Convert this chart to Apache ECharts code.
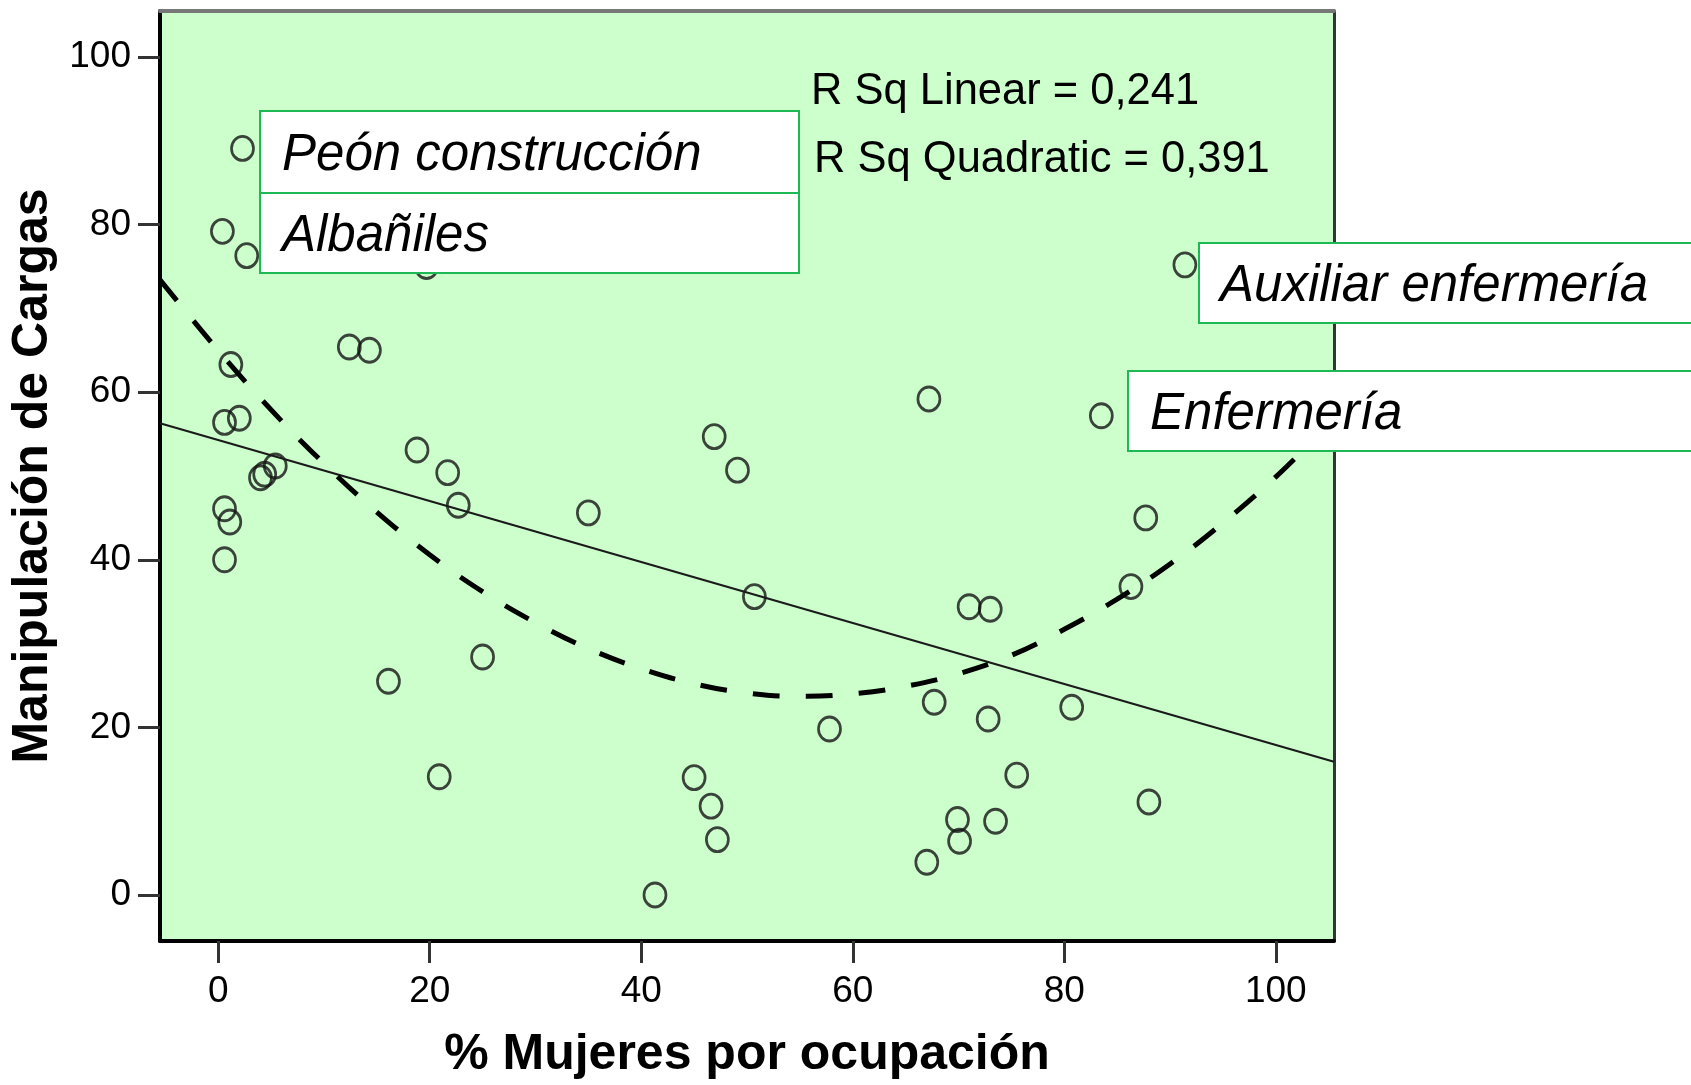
<!DOCTYPE html>
<html><head><meta charset="utf-8">
<script src="https://cdn.jsdelivr.net/npm/echarts@6/dist/echarts.min.js"></script>
<style>html,body{margin:0;padding:0;background:#fff}#c{width:1691px;height:1085px}</style>
</head><body><div id="c"></div>
<script>
// % women per occupation (x) and load handling score (y)
const pctWomen = [2.3,0.4,2.7,19.7,1.2,0.6,2.0,4.0,4.4,5.4,0.6,1.1,0.6,12.4,14.3,18.8,21.7,22.7,16.1,25.0,20.9,35.0,46.9,49.1,50.7,41.3,45.0,46.6,47.2,57.8,67.2,67.7,67.0,69.9,70.1,71.0,73.0,72.8,73.5,75.5,80.7,83.5,86.3,87.7,88.0,91.4];
const cargas   = [89.1,79.2,76.3,75.0,63.3,56.4,56.9,49.8,50.2,51.2,46.1,44.5,40.0,65.4,65.0,53.1,50.4,46.5,25.5,28.4,14.1,45.6,54.7,50.7,35.6,0.0,14.0,10.6,6.6,19.8,59.2,23.0,3.9,9.0,6.4,34.4,34.1,21.0,8.8,14.3,22.4,57.2,36.8,45.0,11.1,75.2];
// linear fit line, read at plot edges
const linX = [-5.5, 105.5];
const linY = [56.3, 15.9];
// quadratic fit curve
const quadX = [-5.5,0,5,10,15,20,25,30,35,40,45,50,55,60,65,70,75,80,85,90,95,100,105.5];
const quadY = [73.4,65.0,57.9,51.5,45.7,40.6,36.2,32.5,29.4,27.0,25.2,24.1,23.7,24.0,24.9,26.4,28.6,31.7,35.3,39.5,44.4,49.9,56.8];
const ticks = [0,20,40,60,80,100];
const xTitle = '% Mujeres por ocupación';
const yTitle = 'Manipulación de Cargas';
const rsqLines = ['R Sq Linear = 0,241','R Sq Quadratic = 0,391'];
const boxLabels = ['Peón construcción','Albañiles','Auxiliar enfermería','Enfermería'];

const zip = (a,b)=>a.map((v,i)=>[v,b[i]]);
const FONT = '"Liberation Sans", Arial, sans-serif';
const chart = echarts.init(document.getElementById('c'), null, {renderer:'canvas'});

const boxStyle = {fill:'#fff', stroke:'#1db954', lineWidth:2};
const boxText = {fill:'#000', font:'italic 51px ' + FONT, verticalAlign:'middle'};

chart.setOption({
  animation:false,
  backgroundColor:'#fff',
  grid:{left:160, top:11, width:1174, height:931, show:true, backgroundColor:'#ccffcc', borderWidth:0},
  xAxis:[{
    type:'value', min:-5.5, max:105.5, position:'bottom',
    axisLine:{onZero:false, lineStyle:{color:'#000', width:4}},
    axisTick:{customValues:ticks, length:22, lineStyle:{color:'#333', width:3}},
    axisLabel:{customValues:ticks, fontSize:37, fontFamily:FONT, color:'#000', margin:32},
    splitLine:{show:false},
    name:xTitle, nameLocation:'middle', nameGap:89,
    nameTextStyle:{fontSize:50, fontWeight:'bold', fontFamily:FONT, color:'#000'}
  },{
    type:'value', min:-5.5, max:105.5, position:'top',
    axisLine:{onZero:false, lineStyle:{color:'#777', width:4}},
    axisTick:{show:false}, axisLabel:{show:false}, splitLine:{show:false}
  }],
  yAxis:[{
    type:'value', min:-5.5, max:105.5, position:'left',
    axisLine:{onZero:false, lineStyle:{color:'#000', width:4}},
    axisTick:{customValues:ticks, length:22, lineStyle:{color:'#333', width:3}},
    axisLabel:{customValues:ticks, fontSize:37, fontFamily:FONT, color:'#000', margin:29},
    splitLine:{show:false},
    name:yTitle, nameLocation:'middle', nameGap:80,
    nameTextStyle:{fontSize:50, fontWeight:'bold', fontFamily:FONT, color:'#000'}
  },{
    type:'value', min:-5.5, max:105.5, position:'right',
    axisLine:{onZero:false, lineStyle:{color:'#333', width:3}},
    axisTick:{show:false}, axisLabel:{show:false}, splitLine:{show:false}
  }],
  series:[
    {type:'scatter', data:zip(pctWomen,cargas), symbol:'circle', symbolSize:[22,24],
     itemStyle:{color:'rgba(0,0,0,0)', borderColor:'#141414', borderWidth:2.8}, z:3},
    {type:'line', data:zip(linX,linY), showSymbol:false, symbol:'none',
     lineStyle:{color:'#1a1a1a', width:2.2}, z:4},
    {type:'line', data:zip(quadX,quadY), showSymbol:false, symbol:'none', smooth:0.4,
     lineStyle:{color:'#000', width:5, type:[27,26]}, z:4}
  ],
  graphic:[
    {type:'text', left:811, top:70, z:100, style:{text:rsqLines[0], fill:'#000', font:'43.5px ' + FONT}},
    {type:'text', left:814, top:138, z:100, style:{text:rsqLines[1], fill:'#000', font:'43.5px ' + FONT}},
    {type:'rect', z:100, shape:{x:260, y:111, width:539, height:82}, style:boxStyle},
    {type:'rect', z:100, shape:{x:260, y:193, width:539, height:80}, style:boxStyle},
    {type:'rect', z:100, shape:{x:1199, y:243, width:600, height:80}, style:boxStyle},
    {type:'rect', z:100, shape:{x:1128, y:371, width:700, height:80}, style:boxStyle},
    {type:'text', z:101, x:282, y:156, style:Object.assign({text:boxLabels[0]}, boxText)},
    {type:'text', z:101, x:282, y:237, style:Object.assign({text:boxLabels[1]}, boxText)},
    {type:'text', z:101, x:1220, y:287, style:Object.assign({text:boxLabels[2]}, boxText)},
    {type:'text', z:101, x:1150, y:415, style:Object.assign({text:boxLabels[3]}, boxText)}
  ]
});
</script></body></html>
